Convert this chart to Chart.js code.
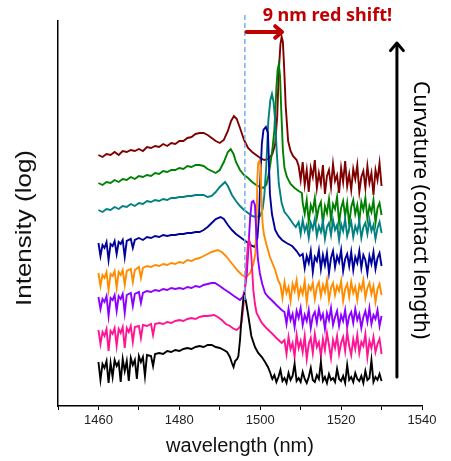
<!DOCTYPE html>
<html>
<head>
<meta charset="utf-8">
<script src="https://cdn.jsdelivr.net/npm/chart.js@4.4.0/dist/chart.umd.min.js"></script>
<style>
  html, body { margin: 0; padding: 0; background: #fff; }
  canvas { display: block; }
</style>
</head>
<body>
<canvas id="spectra" width="451" height="461"></canvas>
<script>
// [wavelength (nm), log intensity (a.u., traces offset vertically)]
// bottom trace = smallest curvature, top trace = largest curvature
const black = [
  [1460, 44], [1460.5, 26], [1461, 42], [1461.5, 38], [1462, 45], [1462.5, 23], [1463, 43], [1463.5, 29],
  [1464, 46], [1464.5, 40], [1465, 44], [1465.5, 24], [1466, 47], [1466.5, 35], [1467, 45], [1467.5, 25],
  [1468, 48], [1468.5, 41], [1469, 46], [1469.5, 27], [1470, 50], [1470.5, 44], [1471, 49], [1471.5, 30],
  [1472, 51], [1473, 50], [1473.5, 40], [1474, 52], [1475, 53], [1476, 52], [1477, 55], [1478, 54],
  [1479, 56], [1480, 55], [1481, 57], [1482, 58], [1483, 57], [1484, 59], [1485, 60], [1486, 59],
  [1487, 61], [1488, 61], [1489, 59], [1490, 58], [1491, 56], [1491.8, 54], [1492.5, 49], [1493, 43],
  [1493.4, 39], [1493.8, 45], [1494.3, 47], [1494.6, 50], [1495, 66], [1495.4, 89], [1495.8, 106], [1496.1, 111],
  [1496.5, 104], [1497.1, 89], [1497.8, 70], [1498.7, 59], [1499.5, 53], [1500.4, 49], [1501.2, 44], [1501.9, 39],
  [1502.5, 33], [1502.8, 29], [1503, 27], [1503.5, 31], [1504, 24], [1504.5, 29], [1505, 36], [1505.5, 25],
  [1506, 28], [1506.5, 23], [1507, 33], [1507.5, 26], [1508, 30], [1508.5, 42], [1509, 25], [1509.5, 28],
  [1510, 24], [1510.5, 34], [1511, 27], [1511.5, 23], [1512, 29], [1512.5, 38], [1513, 26], [1513.5, 24],
  [1514, 31], [1514.5, 27], [1515, 44], [1515.5, 25], [1516, 29], [1516.5, 23], [1517, 32], [1517.5, 26],
  [1518, 28], [1518.5, 24], [1519, 37], [1519.5, 27], [1520, 25], [1520.5, 30], [1521, 23], [1521.5, 41],
  [1522, 26], [1522.5, 29], [1523, 24], [1523.5, 33], [1524, 27], [1524.5, 25], [1525, 30], [1525.5, 23],
  [1526, 35], [1526.5, 26], [1527, 28], [1527.5, 46], [1528, 24], [1528.5, 29], [1529, 26], [1529.5, 32],
  [1530, 25]
];
const pink = [
  [1460, 76], [1460.5, 62], [1461, 74], [1461.5, 70], [1462, 77], [1462.5, 55], [1463, 75], [1463.5, 72],
  [1464, 78], [1464.5, 60], [1465, 77], [1465.5, 73], [1466, 79], [1466.5, 58], [1467, 78], [1467.5, 74],
  [1468, 80], [1468.5, 64], [1469, 79], [1470, 80], [1470.5, 68], [1471, 81], [1472, 80], [1473, 82],
  [1473.5, 71], [1474, 82], [1475, 83], [1476, 82], [1477, 84], [1478, 83], [1479, 85], [1480, 86],
  [1481, 85], [1482, 87], [1483, 88], [1484, 87], [1485, 89], [1486, 90], [1487, 90], [1488.6, 91],
  [1489.5, 89], [1490.5, 86], [1491.5, 82], [1492.5, 80], [1493.5, 77], [1494.2, 76], [1495, 79], [1495.4, 84],
  [1495.8, 98], [1496.2, 116], [1496.6, 142], [1497, 163], [1497.2, 166], [1497.5, 163], [1497.8, 150], [1498.3, 116],
  [1498.7, 102], [1499.1, 93], [1500.4, 83], [1501.5, 78], [1502.8, 73], [1504, 68], [1505.3, 63], [1506, 66],
  [1506.5, 52], [1507, 69], [1507.5, 57], [1508, 63], [1508.5, 49], [1509, 71], [1509.5, 58], [1510, 65],
  [1510.5, 54], [1511, 70], [1511.5, 47], [1512, 62], [1512.5, 68], [1513, 53], [1513.5, 72], [1514, 59],
  [1514.5, 64], [1515, 50], [1515.5, 67], [1516, 56], [1516.5, 73], [1517, 61], [1517.5, 48], [1518, 66],
  [1518.5, 58], [1519, 70], [1519.5, 52], [1520, 63], [1520.5, 69], [1521, 55], [1521.5, 74], [1522, 60],
  [1522.5, 51], [1523, 67], [1523.5, 57], [1524, 71], [1524.5, 53], [1525, 64], [1525.5, 60], [1526, 72],
  [1526.5, 49], [1527, 65], [1527.5, 58], [1528, 69], [1528.5, 54], [1529, 62], [1529.5, 67], [1530, 52]
];
const purple = [
  [1460, 109], [1460.5, 97], [1461, 107], [1461.5, 104], [1462, 110], [1462.5, 90], [1463, 108], [1463.5, 106],
  [1464, 111], [1464.5, 95], [1465, 110], [1465.5, 107], [1466, 112], [1466.5, 93], [1467, 111], [1468, 113],
  [1468.5, 100], [1469, 112], [1470, 114], [1470.5, 103], [1471, 113], [1472, 115], [1473, 114], [1474, 116],
  [1475, 115], [1476, 117], [1477, 116], [1478, 118], [1479, 117], [1480, 118], [1481, 117], [1482, 119],
  [1483, 118], [1484, 120], [1485, 119], [1486, 121], [1487, 122], [1488, 123], [1488.8, 123], [1490, 120],
  [1491, 117], [1492.5, 113], [1493.5, 110], [1495, 106], [1495.7, 109], [1496.2, 116], [1496.7, 133], [1497.1, 160],
  [1497.5, 188], [1497.9, 204], [1498.3, 205], [1498.7, 201], [1499, 175], [1499.4, 148], [1499.9, 133], [1500.5, 122],
  [1501.2, 113], [1502, 109], [1502.8, 106], [1504, 101], [1505.3, 96], [1506, 94], [1506.5, 82], [1507, 97],
  [1507.5, 86], [1508, 92], [1508.5, 79], [1509, 95], [1509.5, 88], [1510, 98], [1510.5, 81], [1511, 91],
  [1511.5, 85], [1512, 96], [1512.5, 78], [1513, 90], [1513.5, 94], [1514, 83], [1514.5, 97], [1515, 87],
  [1515.5, 92], [1516, 77], [1516.5, 93], [1517, 86], [1517.5, 98], [1518, 81], [1518.5, 89], [1519, 95],
  [1519.5, 80], [1520, 91], [1520.5, 85], [1521, 96], [1521.5, 79], [1522, 90], [1522.5, 94], [1523, 83],
  [1523.5, 97], [1524, 86], [1524.5, 92], [1525, 78], [1525.5, 89], [1526, 95], [1526.5, 84], [1527, 98],
  [1527.5, 82], [1528, 91], [1528.5, 87], [1529, 96], [1529.5, 80], [1530, 90]
];
const orange = [
  [1460, 133], [1460.5, 120], [1461, 131], [1461.5, 128], [1462, 134], [1462.5, 116], [1463, 132], [1463.5, 130],
  [1464, 135], [1464.5, 118], [1465, 134], [1465.5, 131], [1466, 136], [1466.5, 121], [1467, 135], [1468, 137],
  [1468.5, 124], [1469, 136], [1470, 139], [1470.5, 128], [1471, 138], [1472, 140], [1473, 139], [1474, 141],
  [1475, 140], [1476, 142], [1477, 141], [1478, 143], [1479, 142], [1480, 144], [1481, 143], [1482, 146],
  [1483, 145], [1484, 147], [1485, 148], [1486, 150], [1487, 152], [1488, 154], [1489.5, 156], [1490.5, 154],
  [1491.5, 150], [1492.5, 145], [1493.5, 140], [1494.5, 135], [1495.5, 131], [1496.5, 129], [1497.5, 133], [1498.3, 142],
  [1498.8, 152], [1499.1, 185], [1499.3, 228], [1499.5, 243], [1499.8, 245], [1500.1, 240], [1500.3, 208], [1500.6, 182],
  [1500.9, 172], [1501.5, 162], [1502.4, 149], [1503.7, 136], [1504.4, 126], [1505, 121], [1505.5, 108], [1506, 124],
  [1506.5, 113], [1507, 119], [1507.5, 105], [1508, 122], [1508.5, 115], [1509, 126], [1509.5, 109], [1510, 118],
  [1510.5, 112], [1511, 125], [1511.5, 104], [1512, 120], [1512.5, 116], [1513, 123], [1513.5, 107], [1514, 119],
  [1514.5, 124], [1515, 110], [1515.5, 121], [1516, 114], [1516.5, 126], [1517, 106], [1517.5, 118], [1518, 123],
  [1518.5, 111], [1519, 120], [1519.5, 115], [1520, 125], [1520.5, 105], [1521, 117], [1521.5, 122], [1522, 109],
  [1522.5, 124], [1523, 113], [1523.5, 119], [1524, 106], [1524.5, 121], [1525, 116], [1525.5, 126], [1526, 108],
  [1526.5, 118], [1527, 123], [1527.5, 112], [1528, 120], [1528.5, 104], [1529, 117], [1529.5, 122], [1530, 111]
];
const blue = [
  [1460, 163], [1460.5, 150], [1461, 161], [1461.5, 158], [1462, 164], [1462.5, 146], [1463, 162], [1463.5, 160],
  [1464, 165], [1464.5, 152], [1465, 164], [1465.5, 162], [1466, 166], [1466.5, 149], [1467, 165], [1468, 167],
  [1468.5, 158], [1469, 166], [1470, 168], [1471, 166], [1472, 169], [1473, 168], [1474, 170], [1475, 169],
  [1476, 171], [1477, 170], [1478, 171], [1479, 171], [1480, 172], [1481, 172], [1482, 173], [1483, 173],
  [1484, 174], [1485, 174], [1486, 176], [1487, 179], [1488, 183], [1489, 187], [1490.2, 189], [1491, 187],
  [1492, 181], [1493, 176], [1494, 172], [1495, 169], [1496, 166], [1497, 163], [1498, 160], [1498.7, 159],
  [1499.3, 168], [1499.7, 190], [1500, 225], [1500.4, 262], [1500.8, 276], [1501.4, 279], [1501.9, 273], [1502.1, 250],
  [1502.4, 212], [1502.9, 192], [1503.7, 176], [1504.5, 170], [1505.4, 166], [1506.5, 163], [1507.9, 160], [1509, 155],
  [1509.8, 150], [1510.5, 152], [1511, 138], [1511.5, 150], [1512, 143], [1512.5, 155], [1513, 134], [1513.5, 149],
  [1514, 145], [1514.5, 156], [1515, 137], [1515.5, 151], [1516, 141], [1516.5, 153], [1517, 133], [1517.5, 148],
  [1518, 155], [1518.5, 139], [1519, 150], [1519.5, 144], [1520, 156], [1520.5, 135], [1521, 147], [1521.5, 152],
  [1522, 140], [1522.5, 154], [1523, 136], [1523.5, 149], [1524, 143], [1524.5, 155], [1525, 138], [1525.5, 151],
  [1526, 146], [1526.5, 133], [1527, 150], [1527.5, 142], [1528, 154], [1528.5, 137], [1529, 148], [1529.5, 153],
  [1530, 140]
];
const teal = [
  [1460, 196], [1461, 194], [1462, 197], [1463, 196], [1464, 199], [1465, 197], [1466, 200], [1467, 199],
  [1468, 202], [1469, 200], [1470, 203], [1471, 202], [1472, 205], [1473, 204], [1474, 206], [1475, 205],
  [1476, 207], [1477, 206], [1478, 208], [1479, 208], [1480, 209], [1481, 209], [1482, 210], [1483, 210],
  [1484, 211], [1485, 211], [1486, 211], [1487, 209], [1488, 210], [1489, 214], [1490, 219], [1491.3, 224],
  [1492, 220], [1493, 211], [1494, 205], [1495, 200], [1496, 196], [1497, 193], [1498, 190], [1499, 189],
  [1500, 190], [1500.6, 197], [1501, 210], [1501.5, 240], [1502, 285], [1502.5, 306], [1502.9, 312], [1503.3, 304],
  [1503.7, 285], [1504.1, 253], [1504.6, 222], [1505.3, 203], [1506, 194], [1507, 189], [1508, 183], [1508.8, 179],
  [1509.5, 184], [1510, 172], [1510.5, 186], [1511, 175], [1511.5, 181], [1512, 168], [1512.5, 183], [1513, 177],
  [1513.5, 187], [1514, 170], [1514.5, 180], [1515, 174], [1515.5, 185], [1516, 167], [1516.5, 179], [1517, 183],
  [1517.5, 171], [1518, 186], [1518.5, 176], [1519, 181], [1519.5, 166], [1520, 182], [1520.5, 175], [1521, 187],
  [1521.5, 170], [1522, 178], [1522.5, 184], [1523, 169], [1523.5, 180], [1524, 174], [1524.5, 185], [1525, 168],
  [1525.5, 179], [1526, 183], [1526.5, 172], [1527, 186], [1527.5, 175], [1528, 181], [1528.5, 167], [1529, 178],
  [1529.5, 184], [1530, 173]
];
const green = [
  [1460, 223], [1461, 221], [1462, 224], [1463, 223], [1464, 226], [1465, 224], [1466, 227], [1467, 226],
  [1468, 229], [1469, 227], [1470, 230], [1471, 229], [1472, 231], [1473, 230], [1474, 233], [1475, 232],
  [1476, 235], [1477, 234], [1478, 236], [1479, 236], [1480, 238], [1481, 237], [1482, 240], [1483, 239],
  [1484, 241], [1485, 241], [1486, 240], [1487, 237], [1488, 235], [1489, 233], [1490, 236], [1491, 244],
  [1492, 254], [1492.7, 257], [1493.4, 252], [1494, 244], [1495, 236], [1496, 231], [1497, 228], [1498, 224],
  [1499, 221], [1500, 219], [1500.7, 218], [1501.5, 221], [1502, 230], [1502.5, 242], [1503, 256], [1503.5, 276],
  [1504, 318], [1504.3, 336], [1504.6, 342], [1504.9, 330], [1505.2, 296], [1505.6, 256], [1506, 238], [1506.6, 229],
  [1507.5, 222], [1508.5, 218], [1509.5, 215], [1510.3, 213], [1510.5, 203], [1511, 192], [1511.5, 206], [1512, 184],
  [1512.5, 201], [1513, 195], [1513.5, 208], [1514, 188], [1514.5, 199], [1515, 204], [1515.5, 182], [1516, 200],
  [1516.5, 193], [1517, 207], [1517.5, 186], [1518, 202], [1518.5, 197], [1519, 209], [1519.5, 183], [1520, 198],
  [1520.5, 205], [1521, 190], [1521.5, 203], [1522, 181], [1522.5, 199], [1523, 206], [1523.5, 192], [1524, 201],
  [1524.5, 185], [1525, 204], [1525.5, 196], [1526, 208], [1526.5, 187], [1527, 200], [1527.5, 194], [1528, 206],
  [1528.5, 183], [1529, 198], [1529.5, 203], [1530, 191]
];
const darkRed = [
  [1460, 251], [1461, 249], [1462, 252], [1463, 251], [1464, 254], [1465, 251], [1466, 255], [1467, 254],
  [1468, 256], [1469, 255], [1470, 257], [1471, 255], [1472, 259], [1473, 258], [1474, 260], [1475, 259],
  [1476, 262], [1477, 260], [1478, 263], [1479, 262], [1480, 265], [1481, 265], [1482, 268], [1483, 269],
  [1484, 272], [1485, 273], [1486, 273], [1487, 271], [1488, 268], [1489, 265], [1490, 263], [1491, 266],
  [1492, 275], [1492.8, 285], [1493.5, 290], [1494.2, 287], [1495, 278], [1496, 266], [1497, 258], [1498, 254],
  [1499, 251], [1500, 248], [1501, 246], [1502, 247], [1503, 252], [1503.7, 262], [1504.2, 290], [1504.6, 335],
  [1505, 362], [1505.3, 369], [1505.6, 364], [1505.9, 340], [1506.3, 300], [1506.9, 265], [1507.5, 255], [1508.1, 250],
  [1509, 246], [1509.5, 240], [1510, 226], [1510.5, 244], [1511, 221], [1511.5, 236], [1512, 214], [1512.5, 238],
  [1513, 229], [1513.5, 246], [1514, 218], [1514.5, 233], [1515, 222], [1515.5, 241], [1516, 212], [1516.5, 230],
  [1517, 236], [1517.5, 219], [1518, 242], [1518.5, 225], [1519, 231], [1519.5, 213], [1520, 238], [1520.5, 224],
  [1521, 245], [1521.5, 220], [1522, 232], [1522.5, 216], [1523, 237], [1523.5, 227], [1524, 241], [1524.5, 214],
  [1525, 229], [1525.5, 235], [1526, 218], [1526.5, 240], [1527, 223], [1527.5, 233], [1528, 211], [1528.5, 236],
  [1529, 226], [1529.5, 243], [1530, 220]
];

const spectra = [black, pink, purple, orange, blue, teal, green, darkRed];
const colors = ['#000000', '#ff1493', '#8b00ff', '#ff8c00', '#00009c', '#008080', '#008000', '#800000'];
const labeledTicks = [1460, 1480, 1500, 1520, 1540];
const refPeak = 1496.2;      // peak of the flat (bottom) trace
const shiftedPeak = 1505.4;  // peak of the top trace

function arrow(ctx, x1, y1, x2, y2, head) {
  const a = Math.atan2(y2 - y1, x2 - x1);
  ctx.beginPath();
  ctx.moveTo(x1, y1);
  ctx.lineTo(x2 - Math.cos(a) * 2, y2 - Math.sin(a) * 2);
  ctx.stroke();
  ctx.beginPath();
  ctx.moveTo(x2 - head * Math.cos(a - 0.7), y2 - head * Math.sin(a - 0.7));
  ctx.lineTo(x2, y2);
  ctx.lineTo(x2 - head * Math.cos(a + 0.7), y2 - head * Math.sin(a + 0.7));
  ctx.stroke();
}

const overlay = {
  id: 'overlay',
  afterDatasetsDraw(chart) {
    const { ctx, chartArea, scales: { x, y } } = chart;
    ctx.save();

    // dashed line at the original resonance
    ctx.strokeStyle = '#7aaef0';
    ctx.lineWidth = 1.5;
    ctx.setLineDash([5, 3]);
    const xr = x.getPixelForValue(refPeak);
    ctx.beginPath();
    ctx.moveTo(xr, y.getPixelForValue(391));
    ctx.lineTo(xr, y.getPixelForValue(106));
    ctx.stroke();
    ctx.setLineDash([]);

    // red shift arrow + label
    ctx.strokeStyle = '#c00000';
    ctx.lineWidth = 4;
    ctx.lineCap = 'round';
    ctx.lineJoin = 'round';
    const ya = y.getPixelForValue(374);
    arrow(ctx, x.getPixelForValue(refPeak + 0.4), ya, x.getPixelForValue(shiftedPeak), ya, 9);
    ctx.fillStyle = '#c00000';
    ctx.font = 'bold 18px "Noto Sans", sans-serif';
    ctx.textAlign = 'left';
    ctx.textBaseline = 'alphabetic';
    ctx.fillText('9 nm red shift!', x.getPixelForValue(1500.6), 21);

    // curvature arrow
    ctx.strokeStyle = '#000';
    ctx.lineWidth = 3;
    const xc = x.getPixelForValue(1533.8);
    arrow(ctx, xc, y.getPixelForValue(29), xc, y.getPixelForValue(363), 10);

    ctx.fillStyle = '#000';
    ctx.font = '21px "Noto Sans", sans-serif';
    ctx.textAlign = 'center';
    ctx.textBaseline = 'middle';
    ctx.translate(chartArea.right - 2, y.getPixelForValue(196));
    ctx.rotate(Math.PI / 2);
    ctx.fillText('Curvature (contact length)', 0, 0);
    ctx.restore();

    // y axis title
    ctx.save();
    ctx.fillStyle = '#111';
    ctx.font = '26px "Liberation Sans", Arial, sans-serif';
    ctx.textAlign = 'center';
    ctx.textBaseline = 'middle';
    ctx.translate(chartArea.left - 33, y.getPixelForValue(178));
    ctx.rotate(-Math.PI / 2);
    ctx.scale(1, 0.85);
    ctx.fillText('Intensity (log)', 0, 0);
    ctx.restore();
  }
};

new Chart(document.getElementById('spectra'), {
  type: 'line',
  data: {
    datasets: spectra.map((d, i) => ({
      data: d,
      borderColor: colors[i],
      borderWidth: 1.9,
      pointRadius: 0,
      tension: 0,
      fill: false
    }))
  },
  options: {
    responsive: false,
    animation: false,
    devicePixelRatio: 1,
    layout: { padding: { top: 21, left: 58, right: 29, bottom: 0 } },
    plugins: { legend: { display: false }, tooltip: { enabled: false } },
    scales: {
      x: {
        type: 'linear',
        min: 1450,
        max: 1540,
        afterFit: (s) => { s.height = 55; },
        ticks: {
          stepSize: 10,
          autoSkip: false,
          maxRotation: 0,
          padding: 3,
          color: '#222',
          font: { family: '"Liberation Sans", Arial, sans-serif', size: 13 },
          callback: (v) => labeledTicks.includes(v) ? String(v) : ''
        },
        grid: { drawOnChartArea: false, drawTicks: true, tickLength: 4, color: '#000', tickColor: '#000' },
        border: { display: true, color: '#000', width: 1.5 },
        title: {
          display: true,
          text: 'wavelength (nm)',
          color: '#111',
          font: { family: '"Liberation Sans", Arial, sans-serif', size: 20 },
          padding: { top: 0, bottom: 3 }
        }
      },
      y: {
        min: 0,
        max: 385,
        afterFit: (s) => { s.width = 0; },
        ticks: { display: false },
        grid: { display: false },
        border: { display: true, color: '#000', width: 1.5 }
      }
    }
  },
  plugins: [overlay]
});
</script>
</body>
</html>
